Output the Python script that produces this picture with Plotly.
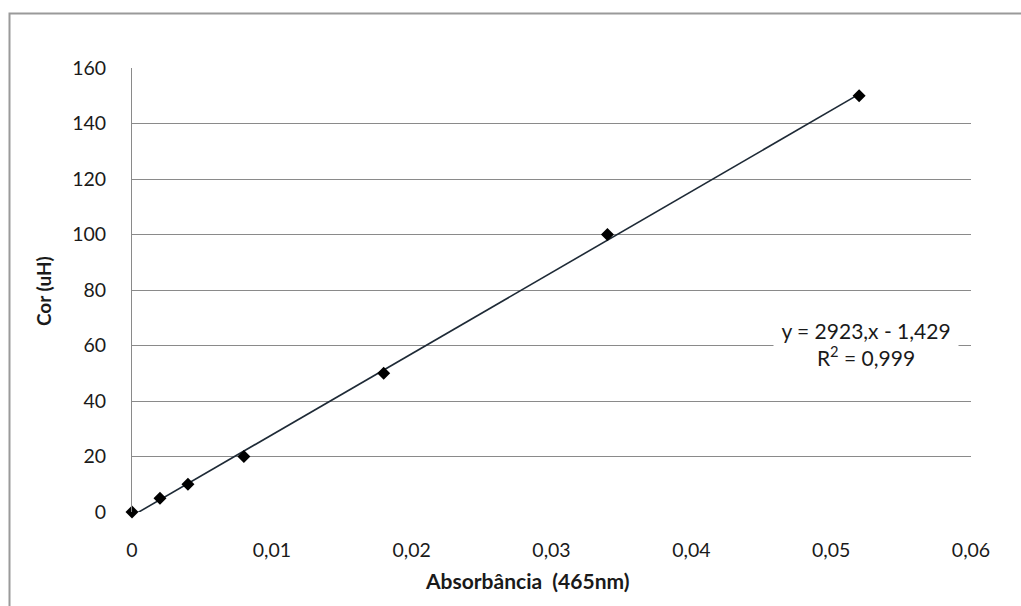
import plotly.graph_objects as go

# Calibration data: absorbance at 465 nm vs colour (uH)
absorbancia = [0.0, 0.002, 0.004, 0.008, 0.018, 0.034, 0.052]
cor = [0, 5, 10, 20, 50, 100, 150]

# Linear trendline parameters
slope = 2923
intercept = -1.429
r2 = 0.999
trend_x = [0.0, 0.052]
trend_y = [slope * x + intercept for x in trend_x]

x_ticks = [0, 0.01, 0.02, 0.03, 0.04, 0.05, 0.06]
y_ticks = [0, 20, 40, 60, 80, 100, 120, 140, 160]

FONT = "Lato"
TXT = "#1a1a1a"
GRID = "#8a8a8a"

W, H = 1021, 606
L, R, T, B = 132, 50, 68, 94
pw, ph = W - L - R, H - T - B


def px_x(p):
    return (p - L) / pw


def px_y(p):
    return (H - B - p) / ph


def fmt(v):
    return f"{v:g}".replace(".", ",")


fig = go.Figure()

fig.add_trace(go.Scatter(
    x=trend_x, y=trend_y, mode="lines",
    line=dict(color="#1e2a36", width=1.6),
    hoverinfo="skip", showlegend=False,
))

fig.add_trace(go.Scatter(
    x=absorbancia, y=cor, mode="markers",
    marker=dict(symbol="diamond", size=10, color="#000000"),
    cliponaxis=False, showlegend=False,
))

eq_text = f"y = {slope},x - {fmt(abs(intercept))}<br>R<sup>2</sup> = {fmt(r2)}"
fig.add_annotation(
    x=0.0525, y=60.5, xref="x", yref="y",
    text=eq_text, showarrow=False, align="center",
    xanchor="center", yanchor="middle",
    bgcolor="#ffffff", width=182, borderpad=1,
    font=dict(family=FONT, size=21, color=TXT),
)

# Axis titles
fig.add_annotation(
    x=px_x(527), y=px_y(580), xref="paper", yref="paper",
    text="<b>Absorbância  (465nm)</b>", showarrow=False,
    xanchor="center", yanchor="middle",
    font=dict(family=FONT, size=21, color=TXT),
)
fig.add_annotation(
    x=px_x(43), y=px_y(291), xref="paper", yref="paper",
    text="<b>Cor (uH)</b>", showarrow=False, textangle=-90,
    xanchor="center", yanchor="middle",
    font=dict(family=FONT, size=19, color=TXT),
)

# Chart-area frame
fig.add_shape(
    type="rect", xref="paper", yref="paper",
    x0=px_x(9.5), x1=px_x(1060), y0=px_y(640), y1=px_y(13.5),
    line=dict(color="#9a9a9a", width=2), layer="below",
)

fig.update_layout(
    width=W, height=H,
    margin=dict(l=L, r=R, t=T, b=B, pad=0),
    paper_bgcolor="#ffffff", plot_bgcolor="#ffffff",
    separators=",.",
    font=dict(family=FONT, size=19, color=TXT),
    showlegend=False,
)

fig.update_xaxes(
    range=[0, 0.06], tickvals=x_ticks,
    ticktext=[fmt(v) for v in x_ticks],
    showgrid=False, zeroline=False, showline=False,
    ticks="outside", ticklen=21, tickcolor="rgba(0,0,0,0)",
    tickfont=dict(family=FONT, size=19.5, color=TXT),
)

fig.update_yaxes(
    range=[0, 160], tickvals=y_ticks,
    showgrid=True, gridcolor=GRID, gridwidth=1,
    zeroline=False, showline=True, linecolor=GRID, linewidth=1,
    ticks="outside", ticklen=21, tickcolor="rgba(0,0,0,0)",
    tickfont=dict(family=FONT, size=19.5, color=TXT),
)

fig.write_html("out.html")
